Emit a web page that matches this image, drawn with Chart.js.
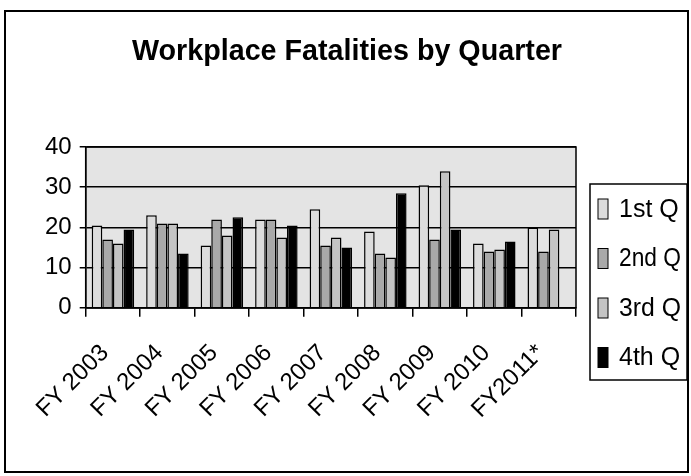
<!DOCTYPE html>
<html>
<head>
<meta charset="utf-8">
<script src="https://cdn.jsdelivr.net/npm/chart.js@4/dist/chart.umd.min.js"></script>
<style>
  html, body { margin: 0; padding: 0; background: #ffffff; }
  #wrap { width: 691px; height: 476px; }
</style>
</head>
<body>
<div id="wrap"><canvas id="c" width="691" height="476"></canvas></div>
<script>
const categories = ["FY 2003", "FY 2004", "FY 2005", "FY 2006", "FY 2007", "FY 2008", "FY 2009", "FY 2010", "FY2011*"];
const seriesNames = ["1st Q", "2nd Q", "3rd Q", "4th Q"];
const q1 = [20.5, 23, 15.5, 22, 24.5, 19, 30.5, 16, 20];
const q2 = [17, 21, 22, 22, 15.5, 13.5, 17, 14, 14];
const q3 = [16, 21, 18, 17.5, 17.5, 12.5, 34, 14.5, 19.5];
const q4 = [19.5, 13.5, 22.5, 20.5, 15, 28.5, 19.5, 16.5, null];
const yTicks = [0, 10, 20, 30, 40];
const titleText = "Workplace Fatalities by Quarter";

const fills = ["#dcdcdc", "#a9a9a9", "#c4c4c4", "#000000"];
const FONT = 'Liberation Sans, Arial, sans-serif';

const framePlugin = {
  id: 'frame',
  beforeDraw(chart) {
    const { ctx, chartArea: a } = chart;
    ctx.save();
    ctx.fillStyle = '#ffffff';
    ctx.fillRect(0, 0, chart.width, chart.height);
    ctx.fillStyle = '#e4e4e4';
    ctx.fillRect(a.left, a.top, a.right - a.left, a.bottom - a.top);
    ctx.restore();
  },
  afterDraw(chart) {
    const { ctx, chartArea: a } = chart;
    ctx.save();
    ctx.strokeStyle = '#000';
    ctx.lineWidth = 1.5;
    ctx.strokeRect(a.left, a.top, a.right - a.left, a.bottom - a.top);
    ctx.lineWidth = 2;
    ctx.strokeRect(5, 11, chart.width - 8, chart.height - 15);
    // title
    ctx.fillStyle = '#000';
    ctx.font = 'bold 30px ' + FONT;
    ctx.textAlign = 'center';
    ctx.textBaseline = 'middle';
    ctx.fillText(titleText, 347, 52, 430);
    // custom legend
    const lx = a.right + 14, ly = 184, lw = 97, lh = 196;
    ctx.lineWidth = 1.5;
    ctx.strokeRect(lx, ly, lw, lh);
    const ds = chart.data.datasets;
    const step = 49.5;
    ctx.font = '25px ' + FONT;
    ctx.textBaseline = 'middle';
    ctx.textAlign = 'left';
    ds.forEach((d, i) => {
      const cy = ly + 25 + i * step;
      ctx.fillStyle = d.backgroundColor;
      ctx.fillRect(lx + 8, cy - 10, 10, 20);
      ctx.strokeStyle = '#000';
      ctx.lineWidth = 1;
      ctx.strokeRect(lx + 8, cy - 10, 10, 20);
      ctx.fillStyle = '#000';
      ctx.fillText(d.label, lx + 29, cy + 1, 62);
    });
    ctx.restore();
  }
};

new Chart(document.getElementById('c'), {
  type: 'bar',
  data: {
    labels: categories,
    datasets: [q1, q2, q3, q4].map((d, i) => ({
      label: seriesNames[i],
      data: d,
      backgroundColor: fills[i],
      borderColor: '#000',
      borderWidth: 1.5,
      categoryPercentage: 0.78,
      barPercentage: 1.0
    }))
  },
  options: {
    responsive: false,
    animation: false,
    devicePixelRatio: 1,
    layout: { padding: { left: 37, right: 115, top: 147, bottom: 30 } },
    plugins: {
      title: { display: false },
      legend: { display: false },
      tooltip: { enabled: false }
    },
    scales: {
      x: {
        grid: { display: true, drawOnChartArea: false, drawTicks: true, tickLength: 9, color: '#000', lineWidth: 1.5, offset: true },
        border: { display: true, color: '#000', width: 1.5 },
        ticks: {
          color: '#000',
          font: { family: FONT, size: 24 },
          maxRotation: 45, minRotation: 45,
          autoSkip: false,
          padding: 22,
          labelOffset: -8
        }
      },
      y: {
        min: 0, max: 40,
        afterBuildTicks(scale) { scale.ticks = yTicks.map(v => ({ value: v })); },
        grid: { color: '#000', lineWidth: 1.5, tickLength: 6, drawTicks: true },
        border: { display: true, color: '#000', width: 1.5 },
        ticks: {
          color: '#000',
          font: { family: FONT, size: 24 },
          padding: 8
        }
      }
    }
  },
  plugins: [framePlugin]
});
</script>
</body>
</html>
